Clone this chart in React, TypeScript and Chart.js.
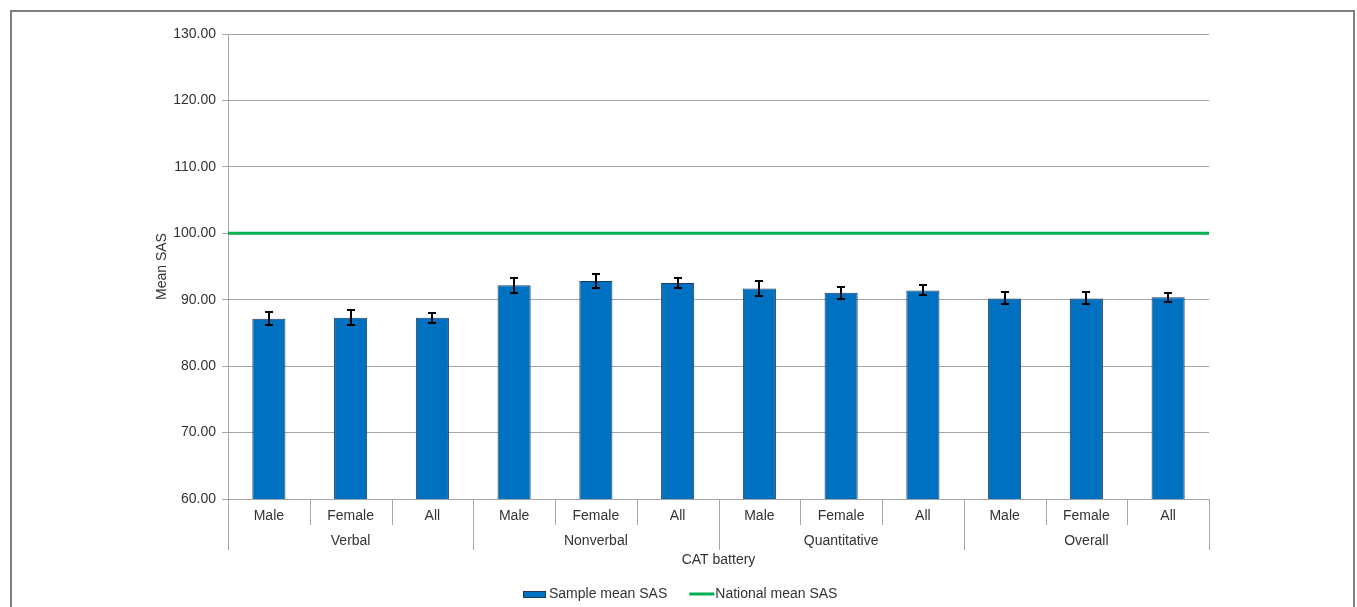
import React, { useEffect, useRef } from "react";
import { Chart, registerables } from "chart.js";

Chart.register(...registerables);

const subLabels = ["Male", "Female", "All", "Male", "Female", "All", "Male", "Female", "All", "Male", "Female", "All"];
const groupLabels = ["Verbal", "Nonverbal", "Quantitative", "Overall"];
const sampleMean = [87.14, 87.29, 87.29, 92.17, 92.8, 92.5, 91.7, 91.05, 91.4, 90.2, 90.2, 90.36];
const errorHalf = [0.98, 1.13, 0.75, 1.1, 1.05, 0.78, 1.18, 0.93, 0.75, 0.9, 0.9, 0.68];
const nationalMean = 100;
const yTitle = "Mean SAS";
const xTitle = "CAT battery";
const seriesNames = ["Sample mean SAS", "National mean SAS"];

const FONT = "Arial, 'Liberation Sans', sans-serif";
const TEXT = "#333333";
const GRID = "#a6a6a6";
const BAR = "#0070C0";
const BAR_BORDER = "#1f3a60";
const GREEN = "#00B050";

const decorPlugin = {
  id: "decor",
  afterDatasetsDraw(chart: any) {
    const ctx = chart.ctx;
    const y = chart.scales.y;
    const meta = chart.getDatasetMeta(0);
    ctx.save();
    ctx.strokeStyle = "#000";
    ctx.lineWidth = 2;
    meta.data.forEach((el: any, i: number) => {
      const v = sampleMean[i];
      const e = errorHalf[i];
      const top = Math.round(y.getPixelForValue(v + e));
      const bot = Math.round(y.getPixelForValue(v - e));
      const x = Math.round(el.x);
      ctx.beginPath();
      ctx.moveTo(x, top);
      ctx.lineTo(x, bot);
      ctx.moveTo(x - 4, top);
      ctx.lineTo(x + 4, top);
      ctx.moveTo(x - 4, bot);
      ctx.lineTo(x + 4, bot);
      ctx.stroke();
    });
    ctx.restore();
  },
  afterDraw(chart: any) {
    const ctx = chart.ctx;
    const xs = chart.scales.x;
    const area = chart.chartArea;
    const n = subLabels.length;
    const base = area.bottom;
    ctx.save();
    ctx.strokeStyle = GRID;
    ctx.lineWidth = 1;
    for (let i = 0; i <= n; i++) {
      let bx: number;
      if (i === 0) bx = area.left;
      else if (i === n) bx = area.right;
      else bx = (xs.getPixelForValue(i - 1) + xs.getPixelForValue(i)) / 2;
      bx = Math.round(bx) + 0.5;
      const long = i % 3 === 0;
      ctx.beginPath();
      ctx.moveTo(bx, base);
      ctx.lineTo(bx, base + (long ? 51 : 26));
      ctx.stroke();
    }
    ctx.fillStyle = TEXT;
    ctx.font = `14px ${FONT}`;
    ctx.textAlign = "center";
    ctx.textBaseline = "middle";
    groupLabels.forEach((g, gi) => {
      const cx = xs.getPixelForValue(gi * 3 + 1);
      ctx.fillText(g, cx, base + 42);
    });
    ctx.fillText(xTitle, (area.left + area.right) / 2, base + 61);

    ctx.save();
    ctx.translate(162, (area.top + area.bottom) / 2);
    ctx.rotate(-Math.PI / 2);
    ctx.fillText(yTitle, 0, 0);
    ctx.restore();

    // legend
    const ly = 594;
    ctx.textAlign = "left";
    const w1 = ctx.measureText(seriesNames[0]).width;
    const w2 = ctx.measureText(seriesNames[1]).width;
    const total = 23 + 3 + w1 + 22 + 25 + 1 + w2;
    let lx = Math.round(chart.width / 2 - total / 2) + 2;
    ctx.fillStyle = BAR;
    ctx.fillRect(lx, ly - 3, 23, 7);
    ctx.strokeStyle = BAR_BORDER;
    ctx.strokeRect(lx + 0.5, ly - 2.5, 22, 6);
    lx += 26;
    ctx.fillStyle = TEXT;
    ctx.fillText(seriesNames[0], lx, ly);
    lx += w1 + 22;
    ctx.strokeStyle = GREEN;
    ctx.lineWidth = 3;
    ctx.beginPath();
    ctx.moveTo(lx, ly);
    ctx.lineTo(lx + 25, ly);
    ctx.stroke();
    lx += 26;
    ctx.fillText(seriesNames[1], lx, ly);
    ctx.restore();
  },
};

export default function App() {
  const ref = useRef<HTMLCanvasElement>(null);
  useEffect(() => {
    if (!ref.current) return;
    const chart = new Chart(ref.current, {
      type: "bar",
      data: {
        labels: subLabels,
        datasets: [
          {
            type: "bar",
            label: seriesNames[0],
            data: sampleMean,
            backgroundColor: BAR,
            borderColor: BAR_BORDER,
            borderWidth: 1,
            grouped: false,
            barPercentage: 0.5,
            categoryPercentage: 0.81,
            xAxisID: "x",
          } as any,
          {
            type: "line",
            label: seriesNames[1],
            data: [
              { x: 0, y: nationalMean },
              { x: 1, y: nationalMean },
            ],
            borderColor: GREEN,
            backgroundColor: GREEN,
            borderWidth: 3,
            pointRadius: 0,
            xAxisID: "x2",
          } as any,
        ],
      },
      options: {
        responsive: false,
        animation: false,
        events: [],
        layout: { padding: { left: 0, top: 34, right: 148, bottom: 78 } },
        plugins: {
          legend: { display: false },
          tooltip: { enabled: false },
          title: { display: false },
        },
        scales: {
          x: {
            type: "category",
            offset: true,
            grid: { display: false, drawTicks: false },
            border: { display: true, color: GRID, width: 1 },
            ticks: { color: TEXT, font: { family: FONT, size: 14 }, padding: 9, maxRotation: 0, autoSkip: false },
            afterFit: (s: any) => {
              s.height = 30;
            },
          },
          x2: {
            type: "linear",
            min: 0,
            max: 1,
            offset: false,
            display: false,
          },
          y: {
            min: 60,
            max: 130,
            ticks: {
              stepSize: 10,
              color: TEXT,
              font: { family: FONT, size: 14 },
              padding: 6,
              callback: (v: any) => Number(v).toFixed(2),
            },
            grid: { color: GRID, lineWidth: 1, tickLength: 6, drawTicks: true },
            border: { display: true, color: GRID, width: 1 },
            afterFit: (s: any) => {
              s.width = 228;
            },
          },
        },
      },
      plugins: [decorPlugin],
    });
    return () => chart.destroy();
  }, []);
  return (
    <div style={{ position: "absolute", left: 0, top: 0, width: 1357, height: 607, overflow: "hidden", background: "#fff" }}>
      <div
        style={{
          position: "absolute",
          left: 10,
          top: 10,
          width: 1341,
          height: 700,
          border: "2px solid #7f7f7f",
        }}
      />
      <canvas ref={ref} width={1357} height={607} style={{ position: "absolute", left: 0, top: 0, display: "block" }} />
    </div>
  );
}
